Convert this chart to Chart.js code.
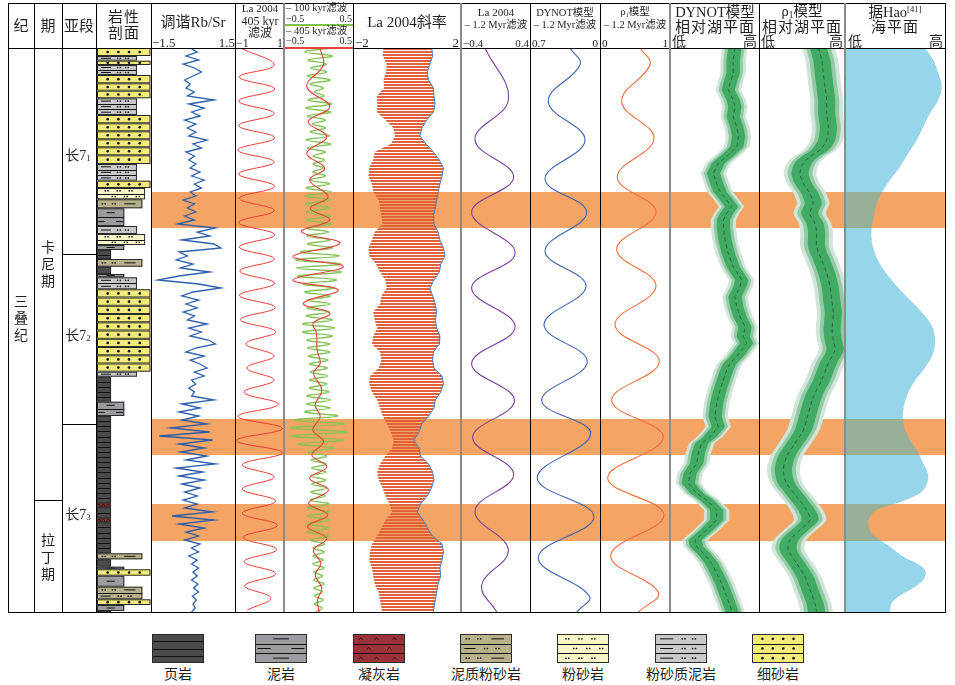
<!DOCTYPE html>
<html lang="zh-CN">
<head>
<meta charset="UTF-8">
<title>长7段 天文调谐与湖平面变化</title>
<script src="https://cdn.jsdelivr.net/npm/chart.js"></script>
<style>
  body { margin: 0; background: #fff; }
  #page { position: relative; width: 955px; height: 685px; overflow: hidden;
          font-family: "Liberation Serif", "Noto Sans CJK SC", serif; color: #231f20; }
  canvas.col { position: absolute; top: 48px; z-index: 1; }
  .t, .tl, .tr { position: absolute; white-space: nowrap; line-height: 1; z-index: 6; }
  .t { transform: translate(-50%, -50%); }
  .tl { transform: translate(0, -50%); }
  .tr { transform: translate(-100%, -50%); }
  .vl { position: absolute; top: 3px; height: 609px; width: 1px; background: #000; z-index: 5; }
  .vg { position: absolute; top: 3px; height: 609px; width: 2px; background: #8c8c8c; z-index: 5; }
  .hl { position: absolute; height: 1px; background: #000; z-index: 5; }
  sub { font-size: 65%; vertical-align: -0.2em; }
  sup { font-size: 60%; vertical-align: 0.5em; }
  .stack { line-height: 17px; text-align: center; white-space: normal; width: 16px; }
</style>
</head>
<body>
<div id="page">
  <!-- frame and column dividers -->
  <div style="position:absolute;left:8px;top:3px;width:938px;height:610px;border:1px solid #000;box-sizing:border-box;z-index:5"></div>
  <div class="hl" style="left:8px;top:48px;width:938px"></div>
  <div class="vl" style="left:34px"></div>
  <div class="vl" style="left:62px"></div>
  <div class="vl" style="left:96px"></div>
  <div class="vl" style="left:151px"></div>
  <div class="vl" style="left:235px"></div>
  <div class="vg" style="left:283px"></div>
  <div class="vl" style="left:353px"></div>
  <div class="vg" style="left:460px"></div>
  <div class="vl" style="left:530px"></div>
  <div class="vl" style="left:600px"></div>
  <div class="vg" style="left:669px"></div>
  <div class="vl" style="left:759px"></div>
  <div class="vg" style="left:844px"></div>
  <div class="hl" style="left:34px;top:500px;width:28px"></div>
  <div class="hl" style="left:62px;top:254px;width:35px"></div>
  <div class="hl" style="left:62px;top:424px;width:35px"></div>

  <!-- header -->
  <div class="t" style="left:21px;top:26px;font-size:15px">纪</div>
  <div class="t" style="left:48px;top:26px;font-size:15px">期</div>
  <div class="t" style="left:79px;top:26px;font-size:15px">亚段</div>
  <div class="t" style="left:124px;top:17px;font-size:15px;letter-spacing:1px">岩性</div>
  <div class="t" style="left:124px;top:33px;font-size:15px;letter-spacing:1px">剖面</div>

  <div class="t" style="left:193px;top:22px;font-size:15px">调谐Rb/Sr</div>
  <div class="tl" style="left:152px;top:42px;font-size:13px">−1.5</div>
  <div class="tr" style="left:235px;top:42px;font-size:13px">1.5</div>

  <div class="t" style="left:260px;top:8px;font-size:11px">La 2004</div>
  <div class="t" style="left:260px;top:21px;font-size:12px">405 kyr</div>
  <div class="t" style="left:260px;top:33px;font-size:12px">滤波</div>
  <div class="tl" style="left:236px;top:43px;font-size:12px">−1</div>
  <div class="tr" style="left:283px;top:43px;font-size:12px">1</div>

  <div class="tl" style="left:286px;top:8px;font-size:10.5px">– 100 kyr滤波</div>
  <div class="tl" style="left:286px;top:18.5px;font-size:10px">−0.5</div>
  <div class="tr" style="left:352px;top:18.5px;font-size:10px">0.5</div>
  <div class="hl" style="left:285px;top:24px;width:68px;height:2px;background:#7dc24b"></div>
  <div class="tl" style="left:286px;top:31px;font-size:10.5px">– 405 kyr滤波</div>
  <div class="tl" style="left:286px;top:41px;font-size:10px">−0.5</div>
  <div class="tr" style="left:352px;top:41px;font-size:10px">0.5</div>
  <div class="hl" style="left:285px;top:47px;width:68px;height:2px;background:#e8403a;z-index:6"></div>

  <div class="t" style="left:407px;top:22px;font-size:15px">La 2004斜率</div>
  <div class="tl" style="left:355px;top:42px;font-size:13px">−2</div>
  <div class="tr" style="left:459px;top:42px;font-size:13px">2</div>

  <div class="t" style="left:496px;top:12px;font-size:11px">La 2004</div>
  <div class="t" style="left:496px;top:25px;font-size:10.5px">– 1.2 Myr滤波</div>
  <div class="tl" style="left:463px;top:43px;font-size:11px">−0.4</div>
  <div class="tr" style="left:529px;top:43px;font-size:11px">0.4</div>

  <div class="t" style="left:565px;top:13px;font-size:10.5px">DYNOT模型</div>
  <div class="t" style="left:565px;top:25px;font-size:10.5px">– 1.2 Myr滤波</div>
  <div class="tl" style="left:532px;top:43px;font-size:11px">0.7</div>
  <div class="tr" style="left:598px;top:43px;font-size:11px">0</div>

  <div class="t" style="left:635px;top:13px;font-size:10.5px">ρ<sub>1</sub>模型</div>
  <div class="t" style="left:635px;top:25px;font-size:10.5px">– 1.2 Myr滤波</div>
  <div class="tl" style="left:602px;top:43px;font-size:11px">0</div>
  <div class="tr" style="left:668px;top:43px;font-size:11px">1</div>

  <div class="t" style="left:715px;top:12px;font-size:14.5px">DYNOT模型</div>
  <div class="t" style="left:715px;top:27px;font-size:15px;letter-spacing:1px">相对湖平面</div>
  <div class="tl" style="left:672px;top:42px;font-size:14px">低</div>
  <div class="tr" style="left:757px;top:42px;font-size:14px">高</div>

  <div class="t" style="left:802px;top:12px;font-size:14.5px">ρ<sub>1</sub>模型</div>
  <div class="t" style="left:802px;top:27px;font-size:15px;letter-spacing:1px">相对湖平面</div>
  <div class="tl" style="left:761px;top:42px;font-size:14px">低</div>
  <div class="tr" style="left:843px;top:42px;font-size:14px">高</div>

  <div class="t" style="left:895px;top:12px;font-size:14.5px">据Hao<sup>[41]</sup></div>
  <div class="t" style="left:895px;top:27px;font-size:15px;letter-spacing:1px">海平面</div>
  <div class="tl" style="left:848px;top:42px;font-size:14px">低</div>
  <div class="tr" style="left:943px;top:42px;font-size:14px">高</div>

  <!-- stratigraphy labels -->
  <div class="t stack" style="left:21px;top:318px;font-size:14px">三<br>叠<br>纪</div>
  <div class="t stack" style="left:48px;top:264px;font-size:14px">卡<br>尼<br>期</div>
  <div class="t stack" style="left:48px;top:557px;font-size:14px">拉<br>丁<br>期</div>
  <div class="t" style="left:78px;top:156px;font-size:14px">长7<sub>1</sub></div>
  <div class="t" style="left:78px;top:336px;font-size:14px">长7<sub>2</sub></div>
  <div class="t" style="left:78px;top:515px;font-size:14px">长7<sub>3</sub></div>

  <!-- data columns -->
  <canvas id="cLith" class="col" width="54" height="564" style="left:97px"></canvas>
  <canvas id="cRbSr" class="col" width="84" height="564" style="left:151px"></canvas>
  <canvas id="c405" class="col" width="49" height="564" style="left:235px"></canvas>
  <canvas id="cFilt" class="col" width="69" height="564" style="left:284px"></canvas>
  <canvas id="cObl" class="col" width="108" height="564" style="left:353px"></canvas>
  <canvas id="cP12" class="col" width="69" height="564" style="left:461px"></canvas>
  <canvas id="cD12" class="col" width="70" height="564" style="left:530px"></canvas>
  <canvas id="cR12" class="col" width="70" height="564" style="left:600px"></canvas>
  <canvas id="cDLake" class="col" width="89" height="564" style="left:670px"></canvas>
  <canvas id="cRLake" class="col" width="86" height="564" style="left:759px"></canvas>
  <canvas id="cHao" class="col" width="100" height="564" style="left:845px"></canvas>

  <canvas id="legend" width="955" height="40" style="position:absolute;left:0;top:625px"></canvas>
</div>

<script>
// ---- data (depth = relative position down the section, 0 = top, 564 = base) ----
const DEPTH_MAX = 564;
const BAND_TOP = [144, 371, 456];
const BAND_BASE = [180, 407, 493];

// lithology column
const LITH_TOP = [0, 8, 12.7, 17, 27, 35.3, 42.7, 50.3, 67, 75.3, 83.3, 91.3, 99.3, 107.3, 116, 132.7, 140, 151.3,
  160.3, 178, 186, 197, 202, 211, 218.7, 226, 229.3, 241.3, 249.5, 257.8, 266, 274.3, 282.5, 290.8, 299, 307.3,
  315.5, 323.7, 328.7, 353.7, 368, 455.3, 459.3, 470.3, 474.3, 505.3, 511.3, 518.7, 521.3, 527.7, 538.7, 551.3, 557, 563];
const LITH_TYPE = ['fs', 'sm', 'fs', 'sm', 'fs', 'fs', 'fs', 'sm', 'fs', 'fs', 'fs', 'fs', 'fs', 'fs', 'sm', 'fs',
  'st', 'as', 'md', 'sm', 'st', 'md', 'sh', 'as', 'sh', 'md', 'sm',
  'fs', 'fs', 'fs', 'fs', 'fs', 'fs', 'fs', 'fs', 'fs', 'fs',
  'sm', 'sh', 'md', 'sh', 'tf', 'sh', 'tf', 'sh', 'as', 'sh', 'md', 'fs', 'md', 'as', 'fs', 'md', 'tf'];
const GRAIN_SIZE = { sh: 0.26, tf: 0.26, md: 0.505, sm: 0.74, as: 0.84, st: 0.89, fs: 0.99 };
const LEGEND_TYPES = ['sh', 'md', 'tf', 'as', 'st', 'sm', 'fs'];
const LEGEND_NAMES = ['页岩', '泥岩', '凝灰岩', '泥质粉砂岩', '粉砂岩', '粉砂质泥岩', '细砂岩'];

// tuned Rb/Sr, one reading every 4 depth units
const RBSR_STEP = 4;
const RBSR = [
  -0.1, 0.15, -0.25, 0.2, -0.35, 0.05, 0.3, 0.0, -0.3, -0.1, -0.25, 0.05, -0.2, 0.75,
  -0.15, 0.4, -0.05, 0.25, -0.3, 0.1, -0.2, 0.1, -0.15, 0.5, 0.0, 0.3, -0.25, 0.05, -0.15, 0.1,
  -0.1, 0.25, -0.05, 0.4, 0.05, 0.3,
  -0.1, 0.1, -0.35, 0.05, -0.2, 0.1, -0.3, 0.05,
  -0.55, 0.8, 0.15, 0.6, -0.4, 0.75, 1.0, -0.5,
  -0.2, -0.6, 0.0, -0.45, 0.6, -0.5, -1.25, 0.2, 1.0, 0.0,
  -0.4, 0.2, -0.25, 0.15, -0.35, 0.05, -0.2, 0.5, -0.15, 0.3,
  -0.1, 0.55, 0.8, 0.1, -0.25, 0.4, -0.1, 0.25, 0.5, 0.05, 0.4, -0.05, 0.1, -0.15, 0.05, -0.05,
  0.75, -0.4, 0.25, -0.5, 0.2, -0.4,
  0.5, -0.8, 0.6, -1.2, 0.7, -0.5,
  0.4, -0.45, 0.5, -0.25, 0.8, -0.6, 0.35, -0.5, 0.4, -0.4, 0.25, -0.3, 0.15, -0.35, 0.15,
  -0.3, 0.7, -0.75, 0.75, -0.5, 0.4, -0.25,
  0.2, -0.3, 0.25, -0.05, 0.2, -0.15, 0.15, -0.05, 0.2, 0.0, 0.15, -0.05, 0.18, 0.02, 0.2, -0.02,
  0.12, 0.0, 0.08, -0.05
];

// La2004 405 kyr filter
const C405_DEPTH = [0, 17, 29, 41, 53, 65.5, 77.6, 89.8, 102, 114, 126, 138.3, 150.4, 162.5, 174.6, 186.8, 199, 211,
  223, 235.3, 247.4, 259.5, 271.6, 283.7, 295.8, 307.9, 320, 332.1, 344.2, 356.3, 368.4, 380.5, 392.6, 404.7, 416.8,
  428.9, 441, 453.1, 465.2, 477.3, 489.4, 501.5, 513.6, 525.7, 537.8, 549.9, 562];
const C405_VALUE = [-0.78, 0.6, -0.82, 0.62, -0.85, 0.6, -0.85, 0.62, -0.88, 0.6, -0.85, 0.62, -0.82, 0.6, -0.85, 0.62,
  -0.82, 0.6, -0.8, 0.62, -0.82, 0.64, -0.78, 0.66, -0.56, 0.59, -0.52, 0.59, -0.63, 0.77, -0.88, 0.93, -0.93, 0.93,
  -0.7, 0.6, -0.7, 0.66, -0.7, 0.73, -0.66, 0.7, -0.63, 0.66, -0.6, 0.46, -0.5];

// Rb/Sr 100 kyr filter, one reading every 4 depth units
const F100_STEP = 4;
const F100 = [
  0.18, -0.2, 0.2, -0.15, 0.12, -0.11, 0.12, -0.16, 0.17, -0.12,
  0.07, -0.06, 0.08, -0.15, 0.19, -0.19, 0.18, -0.16, 0.1, -0.09,
  0.1, -0.12, 0.16, -0.18, 0.18, -0.16, 0.1, -0.08, 0.085, -0.08,
  0.07, -0.08, 0.1, -0.13, 0.16, -0.18, 0.19, -0.19, 0.18, -0.19,
  0.17, -0.18, 0.19, -0.18, 0.19, -0.17, 0.15, -0.17, 0.17, -0.16,
  0.2, -0.26, 0.3, -0.33, 0.33, -0.32, 0.33, -0.3, 0.26, -0.22,
  0.22, -0.2, 0.17, -0.16, 0.17, -0.17, 0.16, -0.18, 0.2, -0.23,
  0.24, -0.23, 0.2, -0.17, 0.17, -0.16, 0.17, -0.15, 0.14, -0.13,
  0.13, -0.12, 0.13, -0.13, 0.12, -0.13, 0.15, -0.17, 0.18, -0.18,
  0.17, -0.2, 0.28, -0.35, 0.38, -0.42, 0.42, -0.4, 0.36, -0.3,
  0.22, -0.15, 0.12, -0.11, 0.12, -0.1, 0.11, -0.12, 0.11, -0.1,
  0.12, -0.11, 0.1, -0.12, 0.15, -0.16, 0.17, -0.16, 0.17, -0.17,
  0.16, -0.17, 0.15, -0.12, 0.09, -0.08, 0.085, -0.08, 0.07, -0.08,
  0.08, -0.07, 0.06, -0.07, 0.08, -0.07, 0.06, -0.06, 0.07, -0.06,
  0.05, -0.04
];

// Rb/Sr 405 kyr filter
const F405_DEPTH = [0, 17, 38.7, 58.7, 73.7, 88.7, 105.3, 120.3, 132, 148.7, 160.3, 172, 183.7, 195.3, 208.7, 218.7,
  232, 242, 255.3, 265.3, 275.3, 285, 302, 315.3, 325.3, 342, 357, 368.7, 382, 393.7, 407, 418.7, 430.3, 442, 455.3,
  467, 478.7, 490.3, 502, 515.3, 527, 540.3, 552, 564];
const F405_VALUE = [0.02, 0.07, -0.17, 0.165, -0.15, 0.12, -0.17, 0.09, -0.13, 0.14, -0.12, 0.165, -0.245, 0.31,
  -0.37, 0.36, -0.37, 0.285, -0.22, 0.165, -0.077, -0.03, -0.02, 0.024, -0.072, 0.048, -0.048, 0.024, -0.082, 0.072,
  -0.097, 0.12, -0.13, 0.145, -0.145, 0.135, -0.16, 0.12, -0.072, 0.034, -0.048, 0.048, -0.014, 0.01];

// La2004 obliquity: left and right edges of the oscillation, one reading every 8 depth units
const OBL_STEP = 8;
const OBL_LEFT = [
  -0.87, -0.9, -0.75, -0.78, -0.87, -0.85, -1.12, -1.1, -1.12, -0.8,
  -0.5, -0.44, -0.6, -1.2, -1.25, -1.4, -1.43, -1.3, -1.25, -1.05,
  -1.0, -0.95, -0.9, -1.2, -1.3, -1.43, -1.4, -1.15, -1.0, -0.8,
  -0.75, -0.95, -1.0, -1.25, -1.2, -1.1, -1.25, -1.3, -1.0, -0.95,
  -1.05, -1.37, -1.4, -1.3, -1.1, -1.0, -0.9, -0.75, -0.6, -0.5,
  -0.55, -0.8, -1.0, -1.1, -1.05, -0.9, -0.8, -0.65, -0.55, -0.8,
  -0.95, -1.1, -1.3, -1.37, -1.4, -1.3, -1.25, -1.2, -1.05, -1.0,
  -0.95, -0.9
];
const OBL_RIGHT = [
  0.92, 0.95, 0.85, 0.75, 0.8, 0.98, 1.0, 1.04, 0.98, 0.73,
  0.55, 0.48, 0.7, 0.98, 1.2, 1.35, 1.3, 1.22, 1.15, 1.1,
  1.05, 0.98, 1.0, 1.15, 1.22, 1.35, 1.41, 1.25, 1.2, 1.0,
  0.85, 0.95, 1.05, 1.1, 1.05, 1.1, 1.22, 1.2, 0.98, 0.95,
  1.0, 1.3, 1.35, 1.25, 1.05, 1.0, 0.8, 0.55, 0.45, 0.25,
  0.45, 0.5, 0.8, 0.95, 1.0, 0.9, 0.75, 0.5, 0.38, 0.6,
  0.75, 0.95, 1.3, 1.35, 1.3, 1.22, 1.25, 1.15, 1.1, 1.05,
  1.0, 0.95
];

// 1.2 Myr filters
const P12_DEPTH = [0, 51.7, 91.6, 129.2, 164.3, 204.9, 240, 278.7, 315.6, 352.5, 389.4, 426.3, 463.2, 502, 537, 564];
const P12_VALUE = [-0.122, 0.149, -0.238, 0.21, -0.277, 0.227, -0.277, 0.227, -0.277, 0.22, -0.265, 0.21, -0.238, 0.149, -0.16, 0.014];
const D12_DEPTH = [0, 16.7, 53.6, 92.3, 131, 164.3, 203, 238.1, 276.8, 313.7, 352.5, 385.7, 430, 468.7, 509.3, 548, 564];
const D12_VALUE = [0.30, 0.20, 0.517, 0.15, 0.55, 0.133, 0.55, 0.14, 0.56, 0.127, 0.583, 0.093, 0.627, 0.06, 0.617, 0.107, 0.233];
const R12_DEPTH = [0, 16.7, 53.6, 90.5, 129.2, 164.3, 201.2, 238.1, 276.8, 313.7, 352.5, 389.4, 430, 466.9, 507.5, 544.4, 564];
const R12_VALUE = [0.571, 0.714, 0.31, 0.771, 0.247, 0.8, 0.238, 0.8, 0.214, 0.847, 0.167, 0.904, 0.11, 0.914, 0.153, 0.833, 0.547];

// relative lake level (0 = 低, 1 = 高)
const DYN_DEPTH = [0, 12, 25.3, 35.3, 42, 52, 58.7, 68.7, 78.7, 88.7, 98.7, 107, 115.3, 125.3, 135.3, 143.7, 152, 158.7,
  165.3, 172, 180.3, 192, 205.3, 218.7, 232, 238.7, 248.7, 258.7, 268.7, 278.7, 288.7, 295.3, 302, 308.7, 315.3, 322,
  332, 342, 355.3, 368.7, 378.7, 388.7, 395.3, 405.3, 415.3, 425.3, 435.3, 445.3, 452, 462, 472, 482, 492, 498.7,
  505.3, 515.3, 525.3, 535.3, 548.7, 564];
const DYN_LEVEL = [0.73, 0.71, 0.71, 0.674, 0.655, 0.71, 0.73, 0.71, 0.75, 0.77, 0.75, 0.655, 0.543, 0.487, 0.524,
  0.562, 0.637, 0.693, 0.637, 0.6, 0.6, 0.618, 0.655, 0.71, 0.805, 0.787, 0.73, 0.75, 0.787, 0.843, 0.824, 0.861,
  0.805, 0.75, 0.674, 0.637, 0.6, 0.562, 0.524, 0.506, 0.543, 0.45, 0.356, 0.318, 0.3, 0.225, 0.206, 0.3, 0.412,
  0.524, 0.524, 0.412, 0.281, 0.3, 0.375, 0.468, 0.524, 0.58, 0.637, 0.7];
const DYN_UNCERT = 0.075;
const RHO_DEPTH = [0, 12, 25.3, 38.7, 52, 65.3, 78.7, 92, 102, 108.7, 115.3, 125.3, 135.3, 145.3, 155.3, 165.3, 175.3,
  185.3, 198.7, 212, 225.3, 238.7, 252, 265.3, 282, 292, 302, 315.3, 332, 348.7, 365.3, 382, 395.3, 408.7, 422, 435.3,
  448.7, 462, 472, 482, 492, 502, 515.3, 528.7, 542, 555.3, 564];
const RHO_LEVEL = [0.69, 0.729, 0.748, 0.767, 0.787, 0.787, 0.806, 0.787, 0.709, 0.59, 0.515, 0.477, 0.515, 0.59, 0.63,
  0.59, 0.65, 0.67, 0.67, 0.729, 0.787, 0.826, 0.845, 0.864, 0.85, 0.864, 0.884, 0.806, 0.729, 0.632, 0.574, 0.516,
  0.419, 0.32, 0.283, 0.32, 0.438, 0.554, 0.593, 0.477, 0.36, 0.34, 0.438, 0.535, 0.593, 0.651, 0.67];
const RHO_UNCERT = 0.1;

// sea level after Hao
const HAO_DEPTH = [0, 12, 25.3, 38.7, 52, 65.3, 78.7, 92, 105.3, 118.7, 132, 142, 152, 162, 172, 180.3, 192, 205.3,
  218.7, 232, 245.3, 258.7, 272, 282, 295.3, 308.7, 322, 335.3, 348.7, 362, 375.3, 388.7, 402, 415.3, 428.7, 442,
  448.7, 455.3, 462, 468.7, 475.3, 485.3, 492, 498.7, 508.7, 515.3, 522, 528.7, 535.3, 542, 548.7, 555.3, 564];
const HAO_LEVEL = [0.80, 0.883, 0.933, 0.967, 0.933, 0.85, 0.783, 0.717, 0.633, 0.55, 0.45, 0.383, 0.333, 0.3, 0.283,
  0.267, 0.267, 0.3, 0.367, 0.467, 0.583, 0.717, 0.833, 0.883, 0.9, 0.867, 0.783, 0.683, 0.617, 0.583, 0.583, 0.633,
  0.717, 0.783, 0.833, 0.783, 0.683, 0.517, 0.317, 0.25, 0.233, 0.267, 0.35, 0.45, 0.583, 0.717, 0.8, 0.8, 0.75,
  0.65, 0.533, 0.467, 0.45];

// ---- styles ----
const BAND_COLOR = '#f6a463';
const BAND_ON_BLUE = '#9aaf97';
const LITH_COLOR = { sh: '#4b4b4d', md: '#9c9ca0', tf: '#9b3139', as: '#b7b28b', st: '#f8f5c8', sm: '#c9c9cb', fs: '#f2eb7b' };
const ROW_PX = { sh: 5, md: 8, tf: 4, as: 7, st: 6, sm: 6, fs: 8 };
const SHADE_K = [1.9, 1.45, 1];
const SHADE_COLORS = ['#cfe6d8', '#93caa5', '#41ab63'];

Chart.defaults.animation = false;
Chart.defaults.events = [];
Chart.defaults.elements.point.radius = 0;
Chart.defaults.plugins.legend.display = false;
Chart.defaults.plugins.tooltip.enabled = false;

// helpers
function pts(depths, values) {
  return depths.map((d, i) => ({ x: values[i], y: d }));
}
function sampled(step, values) {
  return values.map((v, i) => ({ x: v, y: i * step }));
}

function bandRects(chart) {
  const a = chart.chartArea, y = chart.scales.y;
  return BAND_TOP.map((t, i) => {
    const y0 = y.getPixelForValue(t), y1 = y.getPixelForValue(BAND_BASE[i]);
    return [a.left, y0, a.right - a.left, y1 - y0];
  });
}
const bandsUnder = {
  id: 'bandsUnder',
  beforeDatasetsDraw(chart) {
    const ctx = chart.ctx;
    ctx.save();
    ctx.fillStyle = BAND_COLOR;
    bandRects(chart).forEach(r => ctx.fillRect(...r));
    ctx.restore();
  }
};
// on the sea-level column the bands mix with the blue fill
const bandsBlend = {
  id: 'bandsBlend',
  afterDatasetsDraw(chart) {
    const ctx = chart.ctx;
    ctx.save();
    ctx.globalCompositeOperation = 'source-atop';
    ctx.fillStyle = BAND_ON_BLUE;
    bandRects(chart).forEach(r => ctx.fillRect(...r));
    ctx.globalCompositeOperation = 'destination-over';
    ctx.fillStyle = BAND_COLOR;
    bandRects(chart).forEach(r => ctx.fillRect(...r));
    ctx.restore();
  }
};

// lithology symbols
function dot(ctx, x, y, r) { ctx.beginPath(); ctx.arc(x, y, r, 0, Math.PI * 2); ctx.fill(); }
function pair(ctx, x, y) { dot(ctx, x - 1.4, y, 0.85); dot(ctx, x + 1.4, y, 0.85); }
function dash(ctx, xa, xb, y) { ctx.beginPath(); ctx.moveTo(xa, y); ctx.lineTo(xb, y); ctx.stroke(); }
function caret(ctx, x, y) {
  ctx.beginPath(); ctx.moveTo(x - 2, y + 1.2); ctx.lineTo(x, y - 1.2); ctx.lineTo(x + 2, y + 1.2); ctx.stroke();
}
function paintLith(ctx, type, x0, y0, x1, y1, rows) {
  const w = x1 - x0, h = y1 - y0;
  const n = rows || Math.max(1, Math.round(h / ROW_PX[type]));
  const rh = h / n;
  ctx.save();
  ctx.fillStyle = LITH_COLOR[type];
  ctx.fillRect(x0, y0, w, h);
  ctx.strokeStyle = '#111';
  ctx.fillStyle = '#111';
  ctx.lineWidth = 1;
  for (let r = 1; r < n; r++) dash(ctx, x0, x1, Math.round(y0 + r * rh) + 0.5);
  for (let r = 0; r < n; r++) {
    const yc = y0 + (r + 0.5) * rh, f = t => x0 + t * w, odd = r % 2 === 1;
    switch (type) {
      case 'fs': [0.2, 0.4, 0.6, 0.8].forEach(t => dot(ctx, f(t), yc, 1.3)); break;
      case 'st': (odd ? [0.35, 0.6, 0.85] : [0.2, 0.45, 0.7]).forEach(t => pair(ctx, f(t), yc)); break;
      case 'as':
        if (odd) { dash(ctx, f(0.08), f(0.3), yc); pair(ctx, f(0.5), yc); pair(ctx, f(0.72), yc); }
        else { pair(ctx, f(0.15), yc); pair(ctx, f(0.37), yc); dash(ctx, f(0.6), f(0.85), yc); }
        break;
      case 'sm': dash(ctx, f(0.1), f(0.35), yc); pair(ctx, f(0.55), yc); pair(ctx, f(0.75), yc); break;
      case 'md':
        if (odd) { dash(ctx, f(0.05), f(0.3), yc); dash(ctx, f(0.7), f(0.95), yc); }
        else dash(ctx, f(0.35), f(0.65), yc);
        break;
      case 'tf':
        ctx.strokeStyle = '#2a1212';
        (odd ? [0.3, 0.7] : [0.15, 0.45, 0.8]).forEach(t => caret(ctx, f(t), yc));
        ctx.strokeStyle = '#111';
        break;
    }
  }
  ctx.strokeStyle = '#2a2a2a';
  ctx.strokeRect(x0 + 0.5, y0 + 0.5, w - 1, h - 1);
  ctx.restore();
}
const lithPlugin = {
  id: 'lith',
  afterDatasetsDraw(chart) {
    const { ctx, scales: { x, y } } = chart;
    LITH_TYPE.forEach((type, i) => {
      const top = LITH_TOP[i];
      const base = i + 1 < LITH_TOP.length ? LITH_TOP[i + 1] : DEPTH_MAX;
      paintLith(ctx, type, x.getPixelForValue(0), y.getPixelForValue(top),
        x.getPixelForValue(GRAIN_SIZE[type]), y.getPixelForValue(base));
    });
  }
};

function column(id, xMin, xMax, datasets, plugins, reverseX) {
  return new Chart(document.getElementById(id), {
    type: 'line',
    data: { datasets },
    options: {
      indexAxis: 'y',
      responsive: false,
      maintainAspectRatio: false,
      layout: { padding: 0 },
      scales: {
        x: { type: 'linear', min: xMin, max: xMax, reverse: !!reverseX, display: false },
        y: { type: 'linear', min: 0, max: DEPTH_MAX, reverse: true, display: false }
      }
    },
    plugins
  });
}

function curve(data, color, width, tension) {
  return { data, borderColor: color, borderWidth: width, tension: tension, fill: false };
}

function lakeSets(depth, level, uncert, tension) {
  const sets = [];
  SHADE_K.forEach((k, j) => {
    sets.push({ data: pts(depth, level.map(v => v - uncert * k)), borderWidth: 0, fill: false, tension, order: 10 - j });
    sets.push({ data: pts(depth, level.map(v => v + uncert * k)), borderWidth: 0, fill: '-1',
      backgroundColor: SHADE_COLORS[j], tension, order: 10 - j });
  });
  sets.push({ data: pts(depth, level), borderColor: '#2b6a40', borderWidth: 1, borderDash: [4, 3], fill: false, tension, order: 0 });
  return sets;
}

// striped fill for the obliquity signal
const stripe = document.createElement('canvas');
stripe.width = 4; stripe.height = 3;
const sctx = stripe.getContext('2d');
sctx.fillStyle = '#e2613b';
sctx.fillRect(0, 0, 4, 2);
const stripePattern = sctx.createPattern(stripe, 'repeat');

// ---- charts ----
column('cLith', 0, 1, [], [lithPlugin]);

column('cRbSr', -1.5, 1.5, [curve(sampled(RBSR_STEP, RBSR), '#2c5ead', 1.3, 0)], [bandsUnder]);

column('c405', -1, 1, [curve(pts(C405_DEPTH, C405_VALUE), '#ee3a35', 1, 0.4)], [bandsUnder]);

column('cFilt', -0.5, 0.5, [
  Object.assign(curve(pts(F405_DEPTH, F405_VALUE), '#e8403a', 1.1, 0.4), { order: 0 }),
  Object.assign(curve(sampled(F100_STEP, F100), '#84c457', 1.4, 0.4), { order: 1 })
], [bandsUnder]);

column('cObl', -2, 2, [
  { data: sampled(OBL_STEP, OBL_LEFT), borderWidth: 0, fill: false, tension: 0 },
  { data: sampled(OBL_STEP, OBL_RIGHT), borderColor: '#3d7fd0', borderWidth: 1, fill: '-1',
    backgroundColor: stripePattern, tension: 0 }
], [bandsUnder]);

column('cP12', -0.4, 0.4, [curve(pts(P12_DEPTH, P12_VALUE), '#7a3e9d', 1.1, 0.4)], [bandsUnder]);
column('cD12', 0, 0.7, [curve(pts(D12_DEPTH, D12_VALUE), '#3b62b2', 1.1, 0.4)], [bandsUnder], true);
column('cR12', 0, 1, [curve(pts(R12_DEPTH, R12_VALUE), '#ef6d3b', 1.1, 0.4)], [bandsUnder]);

column('cDLake', 0, 1, lakeSets(DYN_DEPTH, DYN_LEVEL, DYN_UNCERT, 0), [bandsUnder]);
column('cRLake', 0, 1, lakeSets(RHO_DEPTH, RHO_LEVEL, RHO_UNCERT, 0.3), [bandsUnder]);

column('cHao', 0, 1, [
  { data: pts(HAO_DEPTH, HAO_LEVEL), borderWidth: 0, fill: { value: 0 }, backgroundColor: '#97d6ea', tension: 0.4 }
], [bandsBlend]);

// ---- lithology legend ----
const LEGEND_X = [152, 255, 353, 460, 557, 655, 752];
const lg = document.getElementById('legend').getContext('2d');
const page = document.getElementById('page');
LEGEND_TYPES.forEach((type, i) => {
  const x = LEGEND_X[i];
  paintLith(lg, type, x, 9, x + 52, 38, type === 'sh' ? 4 : 3);
  const lab = document.createElement('div');
  lab.className = 't';
  lab.style.left = (x + 26) + 'px';
  lab.style.top = '675px';
  lab.style.fontSize = '14px';
  lab.textContent = LEGEND_NAMES[i];
  page.appendChild(lab);
});
</script>
</body>
</html>
